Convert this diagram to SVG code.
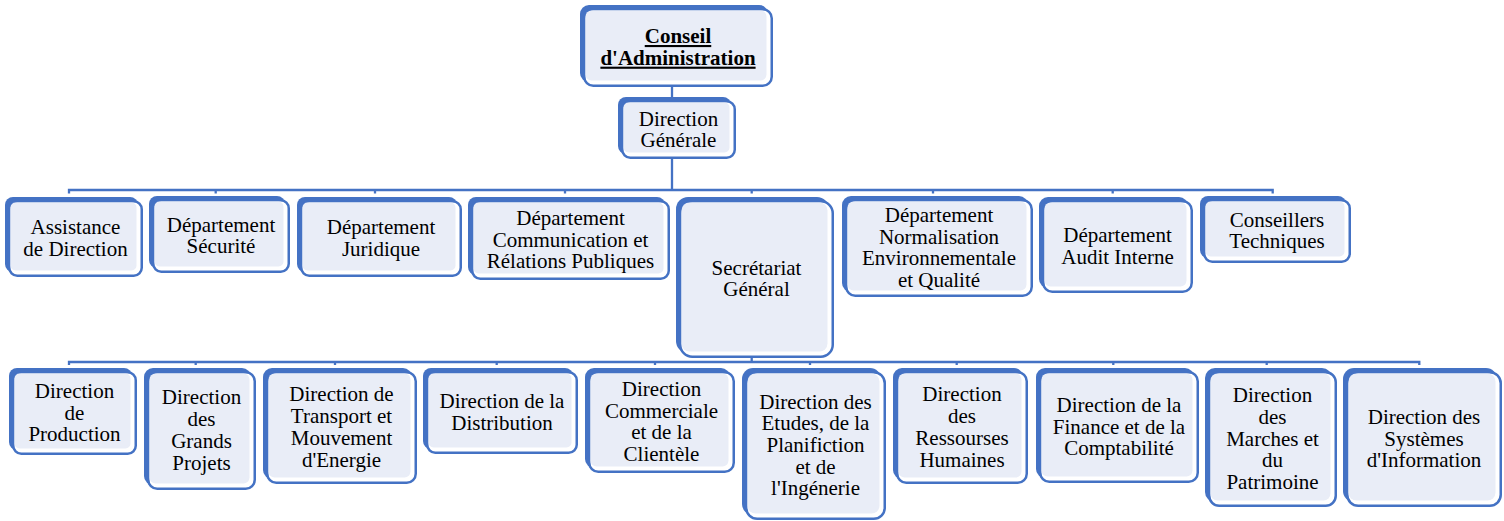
<svg xmlns="http://www.w3.org/2000/svg" width="1504" height="521" viewBox="0 0 1504 521">
<style>
.bk{fill:#4472c4}
.ol{fill:#fff;stroke:#4472c4;stroke-width:2.5}
.fl{fill:#e9edf7}
.t{font-family:'Liberation Serif','Times New Roman','DejaVu Serif',serif;font-size:21px;text-anchor:middle;fill:#000}
.b{font-weight:bold;text-decoration:underline}
.c{fill:none;stroke:#4472c4;stroke-width:2.3}
</style>
<rect width="1504" height="521" fill="#fff"/>
<g id="connectors">
<path class="c" d="M672,86V97"/>
<path class="c" d="M672,159V190M69,193.5V190H1272.7V193.5M215.7,190V193.5M375,190V193.5M565,190V193.5M751.7,190V193.5M933,190V193.5M1112.7,190V193.5"/>
<path class="c" d="M751.7,358V362M69,365V362H1419.3V365M195.7,362V365M335,362V365M496.7,362V365M655,362V365M810,362V365M956.7,362V365M1113.3,362V365M1266.7,362V365"/>
</g>
<g id="ca"><rect class="bk" x="580" y="5" width="188" height="77" rx="9"/><rect class="ol" x="584.25" y="9.25" width="187.5" height="76.5" rx="9"/><rect class="fl" x="585.5" y="10.5" width="181" height="70" rx="6"/>
<text class="t b" font-family="Liberation Serif, serif"><tspan x="678" y="43">Conseil</tspan><tspan x="678" y="64.7">d'Administration</tspan></text></g>
<g id="dg"><rect class="bk" x="618" y="97" width="113" height="57" rx="8"/><rect class="ol" x="622.25" y="101.25" width="112.5" height="56.5" rx="8"/><rect class="fl" x="623.5" y="102.5" width="106" height="50" rx="5"/>
<text class="t"><tspan x="678.5" y="125.5">Direction</tspan><tspan x="678.5" y="147.2">Générale</tspan></text></g>

<g id="assistance"><rect class="bk" x="5" y="197" width="133" height="75" rx="8"/><rect class="ol" x="9.25" y="201.25" width="132.5" height="74.5" rx="8"/><rect class="fl" x="10.5" y="202.5" width="126" height="68" rx="5"/>
<text class="t"><tspan x="75.5" y="234.15">Assistance</tspan><tspan x="75.5" y="255.85">de Direction</tspan></text></g>
<g id="securite"><rect class="bk" x="149" y="196" width="136" height="72" rx="8"/><rect class="ol" x="153.25" y="200.25" width="135.5" height="71.5" rx="8"/><rect class="fl" x="154.5" y="201.5" width="129" height="65" rx="5"/>
<text class="t"><tspan x="221" y="231.65">Département</tspan><tspan x="221" y="253.35">Sécurité</tspan></text></g>
<g id="juridique"><rect class="bk" x="297" y="197" width="160" height="75" rx="8"/><rect class="ol" x="301.25" y="201.25" width="159.5" height="74.5" rx="8"/><rect class="fl" x="302.5" y="202.5" width="153" height="68" rx="5"/>
<text class="t"><tspan x="381" y="234.15">Département</tspan><tspan x="381" y="255.85">Juridique</tspan></text></g>
<g id="communication"><rect class="bk" x="468" y="197" width="197" height="78" rx="8"/><rect class="ol" x="472.25" y="201.25" width="196.5" height="77.5" rx="8"/><rect class="fl" x="473.5" y="202.5" width="190" height="71" rx="5"/>
<text class="t"><tspan x="570.5" y="224.8">Département</tspan><tspan x="570.5" y="246.5">Communication et</tspan><tspan x="570.5" y="268.2">Rélations Publiques</tspan></text></g>
<g id="secretariat"><rect class="bk" x="676" y="197" width="153" height="156" rx="12"/><rect class="ol" x="680.25" y="201.25" width="152.5" height="155.5" rx="12"/><rect class="fl" x="681.5" y="202.5" width="146" height="149" rx="8"/>
<text class="t"><tspan x="756.5" y="274.65">Secrétariat</tspan><tspan x="756.5" y="296.35">Général</tspan></text></g>
<g id="normalisation"><rect class="bk" x="842" y="196" width="186" height="96" rx="9"/><rect class="ol" x="846.25" y="200.25" width="185.5" height="95.5" rx="9"/><rect class="fl" x="847.5" y="201.5" width="179" height="89" rx="6"/>
<text class="t"><tspan x="939" y="221.95">Département</tspan><tspan x="939" y="243.65">Normalisation</tspan><tspan x="939" y="265.35">Environnementale</tspan><tspan x="939" y="287.05">et Qualité</tspan></text></g>
<g id="audit"><rect class="bk" x="1039" y="197" width="149" height="91" rx="9"/><rect class="ol" x="1043.25" y="201.25" width="148.5" height="90.5" rx="9"/><rect class="fl" x="1044.5" y="202.5" width="142" height="84" rx="6"/>
<text class="t"><tspan x="1117.5" y="242.15">Département</tspan><tspan x="1117.5" y="263.85">Audit Interne</tspan></text></g>
<g id="conseillers"><rect class="bk" x="1200" y="196" width="146" height="62" rx="8"/><rect class="ol" x="1204.25" y="200.25" width="145.5" height="61.5" rx="8"/><rect class="fl" x="1205.5" y="201.5" width="139" height="55" rx="5"/>
<text class="t"><tspan x="1277" y="226.65">Conseillers</tspan><tspan x="1277" y="248.35">Techniques</tspan></text></g>

<g id="production"><rect class="bk" x="9" y="368" width="123" height="82" rx="8"/><rect class="ol" x="13.25" y="372.25" width="122.5" height="81.5" rx="8"/><rect class="fl" x="14.5" y="373.5" width="116" height="75" rx="5"/>
<text class="t"><tspan x="74.5" y="397.8">Direction</tspan><tspan x="74.5" y="419.5">de</tspan><tspan x="74.5" y="441.2">Production</tspan></text></g>
<g id="grands-projets"><rect class="bk" x="144" y="368" width="107" height="117" rx="9"/><rect class="ol" x="148.25" y="372.25" width="106.5" height="116.5" rx="9"/><rect class="fl" x="149.5" y="373.5" width="100" height="110" rx="6"/>
<text class="t"><tspan x="201.5" y="404.45">Direction</tspan><tspan x="201.5" y="426.15">des</tspan><tspan x="201.5" y="447.85">Grands</tspan><tspan x="201.5" y="469.55">Projets</tspan></text></g>
<g id="transport"><rect class="bk" x="263" y="368" width="149" height="111" rx="9"/><rect class="ol" x="267.25" y="372.25" width="148.5" height="110.5" rx="9"/><rect class="fl" x="268.5" y="373.5" width="142" height="104" rx="6"/>
<text class="t"><tspan x="341.5" y="401.45">Direction de</tspan><tspan x="341.5" y="423.15">Transport et</tspan><tspan x="341.5" y="444.85">Mouvement</tspan><tspan x="341.5" y="466.55">d'Energie</tspan></text></g>
<g id="distribution"><rect class="bk" x="423" y="368" width="150" height="81" rx="8"/><rect class="ol" x="427.25" y="372.25" width="149.5" height="80.5" rx="8"/><rect class="fl" x="428.5" y="373.5" width="143" height="74" rx="5"/>
<text class="t"><tspan x="502" y="408.15">Direction de la</tspan><tspan x="502" y="429.85">Distribution</tspan></text></g>
<g id="commerciale"><rect class="bk" x="585" y="368" width="145" height="100" rx="9"/><rect class="ol" x="589.25" y="372.25" width="144.5" height="99.5" rx="9"/><rect class="fl" x="590.5" y="373.5" width="138" height="93" rx="6"/>
<text class="t"><tspan x="661.5" y="395.95">Direction</tspan><tspan x="661.5" y="417.65">Commerciale</tspan><tspan x="661.5" y="439.35">et de la</tspan><tspan x="661.5" y="461.05">Clientèle</tspan></text></g>
<g id="etudes"><rect class="bk" x="742" y="368" width="139" height="147" rx="11"/><rect class="ol" x="746.25" y="372.25" width="138.5" height="146.5" rx="11"/><rect class="fl" x="747.5" y="373.5" width="132" height="140" rx="8"/>
<text class="t"><tspan x="815.5" y="408.6">Direction des</tspan><tspan x="815.5" y="430.3">Etudes, de la</tspan><tspan x="815.5" y="452">Planifiction</tspan><tspan x="815.5" y="473.7">et de</tspan><tspan x="815.5" y="495.4">l'Ingénerie</tspan></text></g>
<g id="ressources-humaines"><rect class="bk" x="893" y="368" width="130" height="111" rx="9"/><rect class="ol" x="897.25" y="372.25" width="129.5" height="110.5" rx="9"/><rect class="fl" x="898.5" y="373.5" width="123" height="104" rx="6"/>
<text class="t"><tspan x="962" y="401.45">Direction</tspan><tspan x="962" y="423.15">des</tspan><tspan x="962" y="444.85">Ressourses</tspan><tspan x="962" y="466.55">Humaines</tspan></text></g>
<g id="finance"><rect class="bk" x="1036" y="368" width="158" height="110" rx="9"/><rect class="ol" x="1040.25" y="372.25" width="157.5" height="109.5" rx="9"/><rect class="fl" x="1041.5" y="373.5" width="151" height="103" rx="6"/>
<text class="t"><tspan x="1119" y="411.8">Direction de la</tspan><tspan x="1119" y="433.5">Finance et de la</tspan><tspan x="1119" y="455.2">Comptabilité</tspan></text></g>
<g id="marches"><rect class="bk" x="1205" y="368" width="127" height="134" rx="10"/><rect class="ol" x="1209.25" y="372.25" width="126.5" height="133.5" rx="10"/><rect class="fl" x="1210.5" y="373.5" width="120" height="127" rx="7"/>
<text class="t"><tspan x="1272.5" y="402.1">Direction</tspan><tspan x="1272.5" y="423.8">des</tspan><tspan x="1272.5" y="445.5">Marches et</tspan><tspan x="1272.5" y="467.2">du</tspan><tspan x="1272.5" y="488.9">Patrimoine</tspan></text></g>
<g id="systemes"><rect class="bk" x="1343" y="368" width="154" height="134" rx="11"/><rect class="ol" x="1347.25" y="372.25" width="153.5" height="133.5" rx="11"/><rect class="fl" x="1348.5" y="373.5" width="147" height="127" rx="8"/>
<text class="t"><tspan x="1424" y="423.8">Direction des</tspan><tspan x="1424" y="445.5">Systèmes</tspan><tspan x="1424" y="467.2">d'Information</tspan></text></g>
</svg>
